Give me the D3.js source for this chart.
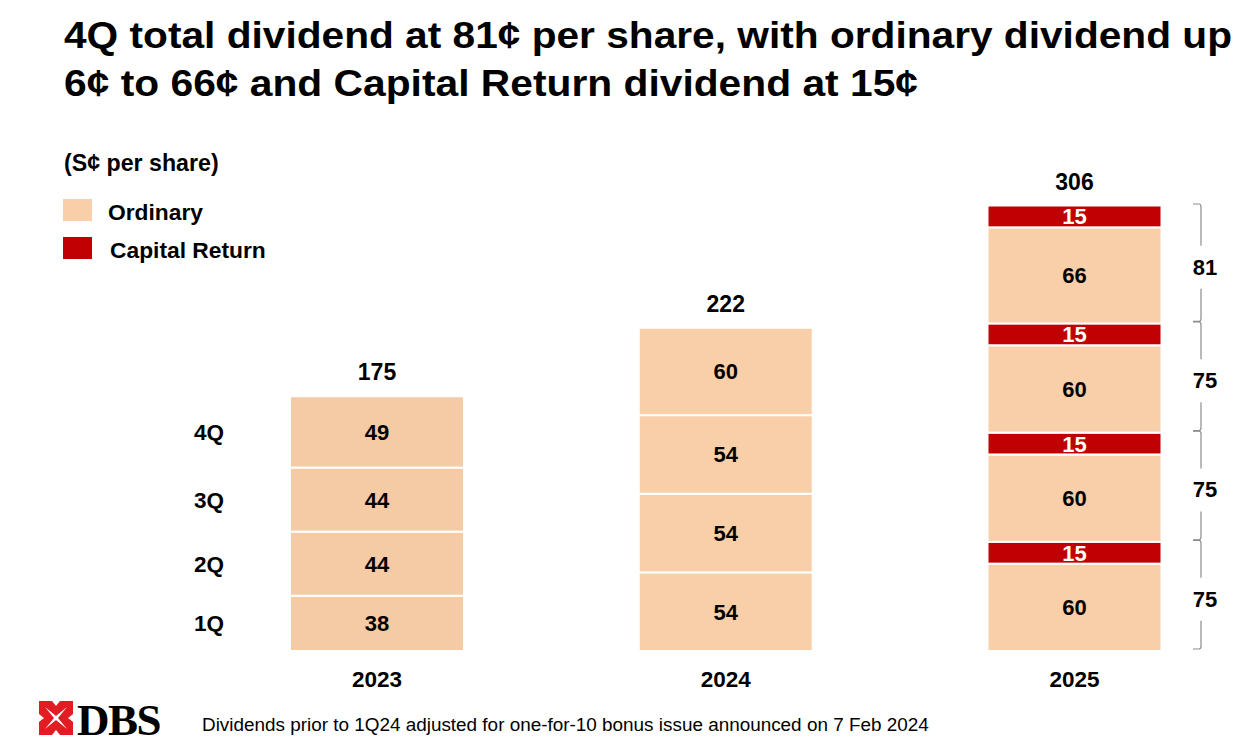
<!DOCTYPE html>
<html><head><meta charset="utf-8">
<script src="https://cdn.jsdelivr.net/npm/d3@7"></script>
<style>
body{margin:0;background:#fff;}
svg{display:block;font-family:"Liberation Sans",Arial,sans-serif;}
</style></head><body>
<svg id="c" width="1249" height="746"></svg>
<script>
const years = ["2023","2024","2025"];
const quarters = ["1Q","2Q","3Q","4Q"];
const ordinary = {"2023":[38,44,44,49],"2024":[54,54,54,60],"2025":[60,60,60,66]};
const capitalReturn = {"2023":[0,0,0,0],"2024":[0,0,0,0],"2025":[15,15,15,15]};
const totals = [175,222,306];
const quarterTotals2025 = [75,75,75,81];
const titleLines = ["4Q total dividend at 81¢ per share, with ordinary dividend up","6¢ to 66¢ and Capital Return dividend at 15¢"];
const titleWidths = [1168, 854];

const svg = d3.select("#c");
const ORD = "#f9cfa9", ORD23 = "#f5cba6", CAP = "#c00000";

const xc = d3.scalePoint().domain(years).range([377,1074.5]);
const barW = 174;
const y = d3.scaleLinear().domain([0,306]).range([651,205.5]);

// title
svg.append("g").selectAll("text").data(titleLines).join("text")
  .attr("x",64).attr("y",(d,i)=>48+i*48)
  .attr("font-size",36).attr("font-weight","bold").attr("fill","#000")
  .attr("textLength",(d,i)=>titleWidths[i]).attr("lengthAdjust","spacingAndGlyphs")
  .text(d=>d);

svg.append("text").attr("x",64).attr("y",171).attr("font-size",23.2).attr("font-weight","bold").text("(S¢ per share)");

// legend
const legend = [{name:"Ordinary",c:ORD,y:199,tx:108},{name:"Capital Return",c:CAP,y:237,tx:110}];
const lg = svg.append("g");
lg.selectAll("rect").data(legend).join("rect").attr("x",63).attr("y",d=>d.y).attr("width",29).attr("height",22).attr("fill",d=>d.c);
lg.selectAll("text").data(legend).join("text").attr("x",d=>d.tx).attr("y",d=>d.y+21).attr("font-size",22.8).attr("font-weight","bold").text(d=>d.name);

// segments
const segs = [];
years.forEach(yr=>{
  let cum = 0;
  quarters.forEach((q,i)=>{
    const o = ordinary[yr][i], c = capitalReturn[yr][i];
    segs.push({yr,q,type:"ord",v:o,y0:cum,y1:cum+o});
    cum += o;
    if(c>0){ segs.push({yr,q,type:"cap",v:c,y0:cum,y1:cum+c}); cum += c; }
  });
});
const g = svg.append("g");
g.selectAll("rect").data(segs).join("rect")
  .attr("x",d=>xc(d.yr)-barW/2).attr("width",barW)
  .attr("y",d=>y(d.y1)).attr("height",d=>y(d.y0)-y(d.y1))
  .attr("fill",d=>d.type==="cap"?CAP:(d.yr==="2023"?ORD23:ORD))
  .attr("stroke","#fff").attr("stroke-width",2);
g.selectAll("text").data(segs).join("text")
  .attr("x",d=>xc(d.yr)).attr("y",d=>(y(d.y0)+y(d.y1))/2+8)
  .attr("text-anchor","middle").attr("font-size",22).attr("font-weight","bold")
  .attr("fill",d=>d.type==="cap"?"#fff":"#000").text(d=>d.v);

// totals
svg.append("g").selectAll("text").data(years).join("text")
  .attr("x",d=>xc(d)).attr("y",(d,i)=>y(totals[i])-16)
  .attr("text-anchor","middle").attr("font-size",23).attr("font-weight","bold").text((d,i)=>totals[i]);

// year labels
svg.append("g").selectAll("text").data(years).join("text")
  .attr("x",d=>xc(d)).attr("y",687)
  .attr("text-anchor","middle").attr("font-size",22.5).attr("font-weight","bold").text(d=>d);

// quarter labels for 2023
let cum23 = 0;
const qpos = quarters.map((q,i)=>{const a=cum23; cum23+=ordinary["2023"][i]; return {q,mid:(a+cum23)/2};});
svg.append("g").selectAll("text").data(qpos).join("text")
  .attr("x",209).attr("y",d=>y(d.mid)+8).attr("text-anchor","middle")
  .attr("font-size",22.5).attr("font-weight","bold").text(d=>d.q);

// brackets for 2025
let cum25 = 0;
const br = quarters.map((q,i)=>{const a=cum25; cum25+=ordinary["2025"][i]+capitalReturn["2025"][i]; return {a,b:cum25,v:quarterTotals2025[i]};});
const bg = svg.append("g");
br.forEach(d=>{
  const top = y(d.b)-1.5, bot = y(d.a)-2, mid=(top+bot)/2;
  const bx = 1201;
  bg.append("path").attr("fill","none").attr("stroke","#8c8c8c").attr("stroke-width",1.2)
    .attr("d",`M${bx-8},${top} L${bx-2},${top} Q${bx},${top} ${bx},${top+3} L${bx},${mid-17}`);
  bg.append("path").attr("fill","none").attr("stroke","#8c8c8c").attr("stroke-width",1.2)
    .attr("d",`M${bx},${mid+26} L${bx},${bot-3} Q${bx},${bot} ${bx-2},${bot} L${bx-8},${bot}`);
  bg.append("text").attr("x",bx+4).attr("y",mid+12).attr("text-anchor","middle")
    .attr("font-size",22).attr("font-weight","bold").text(d.v);
});

// logo
const logo = svg.append("g").attr("transform","translate(56,718)");
logo.append("path").attr("fill","#e31c24")
  .attr("d","M-17,-17 L-4,-17 L0,-12 L4,-17 L17,-17 L17,-4 L12,0 L17,4 L17,17 L4,17 L0,12 L-4,17 L-17,17 L-17,4 L-12,0 L-17,-4 Z");
logo.append("path").attr("fill","#fff")
  .attr("d","M-11,-11 L0,-2 L11,-11 L2,0 L11,11 L0,2 L-11,11 L-2,0 Z");
svg.append("text").attr("x",77).attr("y",735).attr("font-family","Liberation Serif, serif")
  .attr("font-size",45).attr("font-weight","bold").attr("letter-spacing",-1.5).text("DBS");

svg.append("text").attr("x",202).attr("y",731).attr("font-size",18.9).text("Dividends prior to 1Q24 adjusted for one-for-10 bonus issue announced on 7 Feb 2024");
</script></body></html>
